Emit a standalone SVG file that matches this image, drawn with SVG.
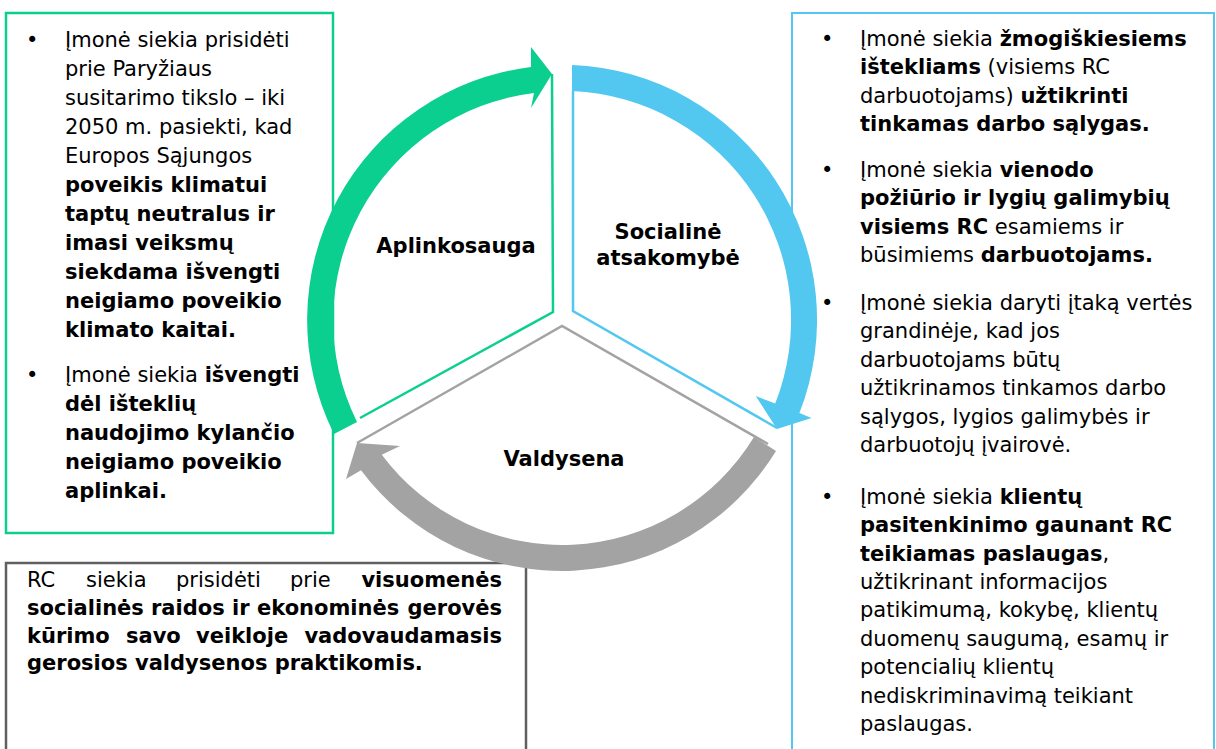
<svg xmlns="http://www.w3.org/2000/svg" width="1216" height="749" viewBox="0 0 1216 749">
<style>
text{font-family:"DejaVu Sans","Liberation Sans",sans-serif;font-size:21px;fill:#000}
.b{font-weight:bold}
.lbl{font-weight:bold;text-anchor:middle}
.box{fill:#fff}
</style>
<rect width="1216" height="749" fill="#fff"/>
<g id="box-env">
<rect class="box" x="6" y="13" width="327" height="520" stroke="#0BCF8F" stroke-width="2.5"/>
<text x="26" y="47">•</text><text x="65" y="47">Įmonė siekia prisidėti</text>
<text x="65" y="76">prie Paryžiaus</text>
<text x="65" y="105">susitarimo tikslo – iki</text>
<text x="65" y="134">2050 m. pasiekti, kad</text>
<text x="65" y="163">Europos Sąjungos</text>
<text x="65" y="192" class="b">poveikis klimatui</text>
<text x="65" y="221" class="b">taptų neutralus ir</text>
<text x="65" y="250" class="b">imasi veiksmų</text>
<text x="65" y="279" class="b">siekdama išvengti</text>
<text x="65" y="308" class="b">neigiamo poveikio</text>
<text x="65" y="337" class="b">klimato kaitai.</text>
<text x="26" y="382">•</text><text x="65" y="382">Įmonė siekia <tspan class="b">išvengti</tspan></text>
<text x="65" y="411" class="b">dėl išteklių</text>
<text x="65" y="440" class="b">naudojimo kylančio</text>
<text x="65" y="469" class="b">neigiamo poveikio</text>
<text x="65" y="498" class="b">aplinkai.</text>
</g>
<g id="box-soc">
<rect class="box" x="792" y="13" width="422" height="760" stroke="#52C8F0" stroke-width="2"/>
<text x="821" y="46">•</text><text x="860" y="46">Įmonė siekia <tspan class="b">žmogiškiesiems</tspan></text>
<text x="860" y="74"><tspan class="b">ištekliams</tspan> (visiems RC</text>
<text x="860" y="103">darbuotojams) <tspan class="b">užtikrinti</tspan></text>
<text x="860" y="131" class="b">tinkamas darbo sąlygas.</text>
<text x="821" y="177">•</text><text x="860" y="177">Įmonė siekia <tspan class="b">vienodo</tspan></text>
<text x="860" y="205" class="b">požiūrio ir lygių galimybių</text>
<text x="860" y="234"><tspan class="b">visiems RC</tspan> esamiems ir</text>
<text x="860" y="262">būsimiems <tspan class="b">darbuotojams.</tspan></text>
<text x="821" y="310">•</text><text x="860" y="310">Įmonė siekia daryti įtaką vertės</text>
<text x="860" y="338">grandinėje, kad jos</text>
<text x="860" y="367">darbuotojams būtų</text>
<text x="860" y="395">užtikrinamos tinkamos darbo</text>
<text x="860" y="424">sąlygos, lygios galimybės ir</text>
<text x="860" y="452">darbuotojų įvairovė.</text>
<text x="821" y="504">•</text><text x="860" y="504">Įmonė siekia <tspan class="b">klientų</tspan></text>
<text x="860" y="532" class="b">pasitenkinimo gaunant RC</text>
<text x="860" y="561"><tspan class="b">teikiamas paslaugas</tspan>,</text>
<text x="860" y="589">užtikrinant informacijos</text>
<text x="860" y="617">patikimumą, kokybę, klientų</text>
<text x="860" y="646">duomenų saugumą, esamų ir</text>
<text x="860" y="674">potencialių klientų</text>
<text x="860" y="703">nediskriminavimą teikiant</text>
<text x="860" y="731">paslaugas.</text>
</g>
<g id="box-gov">
<rect class="box" x="6" y="563" width="520" height="220" stroke="#606060" stroke-width="2.5"/>
<text x="27" y="587">RC</text>
<text x="86" y="587">siekia</text>
<text x="176" y="587">prisidėti</text>
<text x="290" y="587">prie</text>
<text x="502" y="587" class="b" text-anchor="end">visuomenės</text>
<text x="27" y="615" class="b">socialinės</text>
<text x="151" y="615" class="b">raidos</text>
<text x="232" y="615" class="b">ir</text>
<text x="257" y="615" class="b">ekonominės</text>
<text x="502" y="615" class="b" text-anchor="end">gerovės</text>
<text x="27" y="643" class="b">kūrimo</text>
<text x="126" y="643" class="b">savo</text>
<text x="196" y="643" class="b">veikloje</text>
<text x="502" y="643" class="b" text-anchor="end">vadovaudamasis</text>
<text x="27" y="670" class="b">gerosios valdysenos praktikomis.</text>
</g>
<g id="connectors">
<path d="M552,74 L553,312 L360,418" fill="none" stroke="#0BCF8F" stroke-width="2.5"/>
<path d="M573,91 L573,311 L777,428" fill="none" stroke="#52C8F0" stroke-width="2.5"/>
<path d="M357,443 L562,326 L768,444" fill="none" stroke="#A3A3A3" stroke-width="2.5"/>
<path id="arc-green" d="M334,434 A255,255 0 0,1 531,67 L531,47 L552,74 L531,108 L534,93 A229,229 0 0,0 357,422 Z" fill="#0BCF8F"/>
<path id="arc-blue" d="M572,65 A255,255 0 0,1 799.4,413 L811.5,418 L777,429 L755.7,396 L775.2,403.6 A229,229 0 0,0 572,91 Z" fill="#52C8F0"/>
<path id="arc-gray" d="M776,451 A251,251 0 0,1 361,470.3 L346,479 L357,443 L400,446 L381.8,454.8 A225,225 0 0,0 754,437 Z" fill="#A3A3A3"/>
</g>
<g id="node-env"><text class="lbl" x="456" y="253">Aplinkosauga</text></g>
<g id="node-soc"><text class="lbl" x="668" y="239">Socialinė</text><text class="lbl" x="668" y="265">atsakomybė</text></g>
<g id="node-gov"><text class="lbl" x="564" y="466">Valdysena</text></g>
</svg>
